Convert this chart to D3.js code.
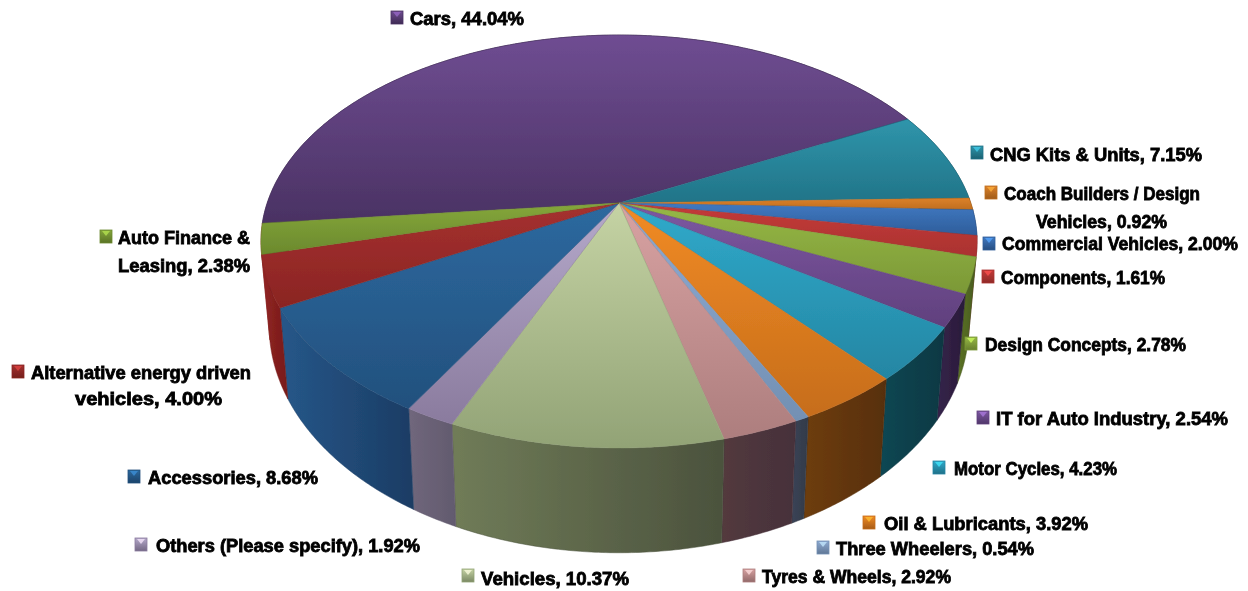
<!DOCTYPE html>
<html><head><meta charset="utf-8">
<script src="https://d3js.org/d3.v7.min.js"></script>
<style>html,body{margin:0;padding:0;background:#fff;overflow:hidden}svg{display:block}</style>
</head><body><svg id="c" width="1248" height="591"></svg>
<script>
const categories = ["Cars","CNG Kits & Units","Coach Builders / Design Vehicles","Commercial Vehicles","Components","Design Concepts","IT for Auto Industry","Motor Cycles","Oil & Lubricants","Three Wheelers","Tyres & Wheels","Vehicles","Others (Please specify)","Accessories","Alternative energy driven vehicles","Auto Finance & Leasing"];
const shares = [44.04,7.15,0.92,2.00,1.61,2.78,2.54,4.23,3.92,0.54,2.92,10.37,1.92,8.68,4.00,2.38];
const topLight = ["#6f4d92","#2f95ab","#dc812b","#4079c2","#c53b39","#96b846","#7d58a2","#30aacb","#f18b25","#8eaad2","#d8a2a2","#c5d3a4","#b5a9ca","#2d699f","#a53130","#85a73b"];
const topDark  = ["#4a3263","#217488","#bf6e1e","#2e5d9a","#aa3230","#7b9836","#60407d","#2486a3","#c66d1b","#7390b3","#ad7e7e","#92a376","#8a7b9e","#22507d","#8a2422","#6b892d"];
const wallLight = ["#3d2a52","#175060","#7a4514","#27497a","#7a2020","#5c7326","#35234a","#0f4753","#6e3d0e","#3b4456","#533a3e","#707c58","#70677c","#265789","#932524","#932524"];
const wallDark  = ["#2c1e3c","#103a46","#5a320e","#1c3559","#5e1716","#485b1e","#2a1b3a","#0e3843","#572f08","#323a49","#46303a","#4b523d","#625a6e","#1b3c64","#761a19","#8a2220"];
const labelLines = [["Cars"],["CNG Kits & Units"],["Coach Builders / Design","Vehicles"],["Commercial Vehicles"],["Components"],["Design Concepts"],["IT for Auto Industry"],["Motor Cycles"],["Oil & Lubricants"],["Three Wheelers"],["Tyres & Wheels"],["Vehicles"],["Others (Please specify)"],["Accessories"],["Alternative energy driven","vehicles"],["Auto Finance &","Leasing"]];
// label layout: [marker x, marker y, text x, baseline, text width, second-line x, second-line baseline, second-line width]
const labelLayout = [[391,11,410,25,114],[971,146,990,161,212],[985,186,1004,200,196,1036,228,131],[983,237,1002,250,236],[982,270,1001,284,164],[965,337,985,351,201],[977,411,996,425,232],[933,461,954,475,163],[863,516,884,530,204],[817,541,836,555,198],[743,569,762,583,189],[462,569,481,585,148],[135,538,156,552,264],[128,470,148,484,170],[12,365,31,379,220,75,405,147],[100,230,118,244,132,118,272,132]];

const svg = d3.select("#c");
const defs = svg.append("defs");
const rad = d => d*Math.PI/180;
const pie = d3.pie().sort(null).startAngle(rad(-95.7)).endAngle(rad(-95.7+360));
const arcs = pie(shares);

// perspective projection of the pie's unit circle
const cx=619, cy=203, R=351.8, S=199.3, k=0.1864;
const proj = (r,a)=>{ const u=r*Math.sin(a), v=-r*Math.cos(a), w=1-k*v; return [cx+R*u/w, cy+S*v/w]; };
const drop = p => [cx+(p[0]-cx)*0.977, 1.1*p[1]+60];
const line = d3.line();
const rim = d => { const n=Math.max(2,Math.ceil((d.endAngle-d.startAngle)/rad(0.5))); return d3.range(n+1).map(i=>d.startAngle+(d.endAngle-d.startAngle)*i/n).map(a=>proj(1,a)); };

const mkBlur=(id,s)=>defs.append("filter").attr("id",id).attr("x","-2%").attr("y","-2%").attr("width","104%").attr("height","104%").append("feGaussianBlur").attr("stdDeviation",s);
mkBlur("soft",0.45); mkBlur("softText",0.35);
const grad=(id,x2,y2,a,b)=>{const g=defs.append("linearGradient").attr("id",id).attr("x1",0).attr("y1",0).attr("x2",x2).attr("y2",y2);g.append("stop").attr("offset",0).attr("stop-color",a);g.append("stop").attr("offset",1).attr("stop-color",b);};
arcs.forEach((d,i)=>{grad("t"+i,0,1,topLight[i],topDark[i]);grad("w"+i,1,0,wallLight[i],wallDark[i]);grad("m"+i,0,1,topLight[i],d3.color(topDark[i]).darker(0.5).formatHex());});

const g = svg.append("g").attr("filter","url(#soft)");
g.selectAll("path.wall").data(arcs).join("path").attr("class","wall")
 .attr("d",d=>{const r=rim(d);return line(r.concat(r.map(drop).reverse()))+"Z";})
 .attr("fill",(d,i)=>`url(#w${i})`).attr("stroke",(d,i)=>wallDark[i]).attr("stroke-width",0.5);
g.selectAll("path.top").data(arcs).join("path").attr("class","top")
 .attr("d",d=>line([[cx,cy]].concat(rim(d)))+"Z")
 .attr("fill",(d,i)=>`url(#t${i})`).attr("stroke",(d,i)=>topDark[i]).attr("stroke-width",0.5);

const fmt = d3.format(".2f");
const lab = svg.append("g").attr("filter","url(#softText)").attr("font-family","'Liberation Sans',Arial,sans-serif").attr("font-weight","bold").attr("font-size",18).attr("fill","#000");
const put=(x,y,w,s)=>lab.append("text").attr("x",x).attr("y",y).attr("textLength",w).attr("lengthAdjust","spacingAndGlyphs").attr("stroke","#000").attr("stroke-width",0.8).text(s);
categories.forEach((c,i)=>{
  const [mx,my,tx,ty,tw,x2,ty2,w2]=labelLayout[i], L=labelLines[i], pct=`${fmt(shares[i])}%`;
  lab.append("rect").attr("x",mx).attr("y",my).attr("width",12).attr("height",13).attr("fill",`url(#m${i})`).attr("stroke",topDark[i]).attr("stroke-width",0.8);
  lab.append("path").attr("d",line([[mx+2,my+1],[mx+10,my+1],[mx+6,my+6]])+"Z").attr("fill",d3.color(topLight[i]).brighter(0.9).formatHex()).attr("opacity",0.75);
  if(L.length===1){ put(tx,ty,tw,`${L[0]}, ${pct}`); }
  else { put(tx,ty,tw,L[0]); put(x2,ty2,w2,`${L[1]}, ${pct}`); }
});
</script></body></html>
